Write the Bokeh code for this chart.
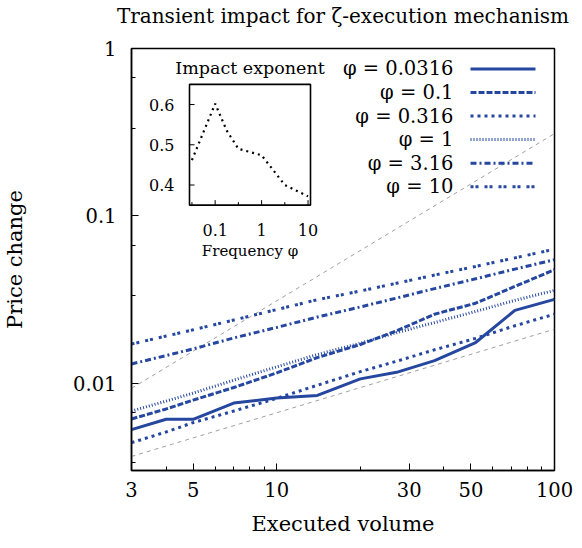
import math
from bokeh.plotting import figure
from bokeh.models import FixedTicker, CustomJSTickFormatter, Range1d, LinearScale, LogScale, LinearAxis
from bokeh.core.properties import value
from bokeh.embed import file_html
from bokeh.resources import INLINE

# ---------------- data ----------------
volume = [3, 4, 5, 7, 10, 14, 20, 27, 37, 52, 72, 100]
phi_labels = ["φ = 0.0316", "φ = 0.1", "φ = 0.316", "φ = 1", "φ = 3.16", "φ = 10"]
impact_phi_0_0316 = [0.00527, 0.00607, 0.00607, 0.00759, 0.00813, 0.00843, 0.01059, 0.01159, 0.01361, 0.01747, 0.02718, 0.03162]
impact_phi_0_1 = [0.0061, 0.0070, 0.0079, 0.0094, 0.0115, 0.0142, 0.0170, 0.0205, 0.0258, 0.0300, 0.0378, 0.0476]
impact_phi_0_316 = [0.0044, 0.0051, 0.0058, 0.0068, 0.0081, 0.0097, 0.0117, 0.0135, 0.0158, 0.0185, 0.0220, 0.0258]
impact_phi_1 = [0.0068, 0.0078, 0.0087, 0.0104, 0.0125, 0.0148, 0.0173, 0.0200, 0.0230, 0.0268, 0.0312, 0.0358]
impact_phi_3_16 = [0.0130, 0.0146, 0.0160, 0.0186, 0.0215, 0.0248, 0.0285, 0.0322, 0.0367, 0.0420, 0.0480, 0.0546]
impact_phi_10 = [0.0171, 0.0191, 0.0208, 0.0238, 0.0275, 0.0315, 0.0355, 0.0395, 0.0442, 0.0498, 0.0560, 0.0631]

inset_phi = [0.0316, 0.1, 0.178, 0.316, 1, 3.16, 10]
inset_exponent = [0.462, 0.602, 0.535, 0.490, 0.474, 0.400, 0.372]

guide_volume = [3, 100]
guide_linear = [0.0093, 0.31]
guide_sqrt = [0.00364, 0.021]

x_ticks = [3, 5, 10, 30, 50, 100]
x_minor = [4, 6, 7, 8, 9, 20, 40, 60, 70, 80, 90]
y_ticks = [0.01, 0.1, 1]
y_minor = [0.00333, 0.00667, 0.0333, 0.0667, 0.333, 0.667]
inset_x_ticks = [0.1, 1, 10]
inset_x_tick_labels = ["0.1", "1", "10"]
inset_x_minor = [0.0316, 0.316, 3.16]
inset_y_ticks = [0.4, 0.5, 0.6]
inset_y_tick_labels = ["0.4", "0.5", "0.6"]
inset_x_lim = [0.028, 11.3]
inset_y_lim = [0.35, 0.65]
title_text = "Transient impact for ζ-execution mechanism"

# ---------------- style ----------------
BLUE = "#25479F"
FONT = "DejaVu Serif"
FS = "19.5px"      # tick labels, legend
LFS = "21px"       # axis labels
TFS = "20px"       # title
IFS = "16px"       # inset tick labels
W, H = 574, 540
BL, BR, BT, BB = 131, 20, 47, 70
FW, FH = W - BL - BR, H - BT - BB

p = figure(width=W, height=H, x_axis_type="log", y_axis_type="log",
           x_range=Range1d(3, 100), y_range=Range1d(0.003, 1),
           output_backend="svg", toolbar_location=None,
           min_border_left=BL, min_border_right=BR, min_border_top=BT, min_border_bottom=BB)
p.xgrid.visible = False
p.ygrid.visible = False
p.outline_line_color = "black"
p.outline_line_width = 1.5
p.outline_line_alpha = 1.0
p.background_fill_color = "white"
p.border_fill_color = "white"

fmt = CustomJSTickFormatter(code="return tick.toString();")
p.xaxis.ticker = FixedTicker(ticks=x_ticks, minor_ticks=x_minor)
p.yaxis.ticker = FixedTicker(ticks=y_ticks, minor_ticks=y_minor)
for ax in (p.xaxis[0], p.yaxis[0]):
    ax.formatter = fmt
    ax.major_tick_in = 7
    ax.major_tick_out = 0
    ax.minor_tick_in = 4
    ax.minor_tick_out = 0
    ax.major_tick_line_color = "black"
    ax.minor_tick_line_color = "black"
    ax.axis_line_color = "black"
    ax.axis_line_width = 1.5
    ax.major_label_text_font = FONT
    ax.major_label_text_font_size = FS
    ax.major_label_text_color = "black"
    ax.axis_label_text_font = FONT
    ax.axis_label_text_font_size = LFS
    ax.axis_label_text_font_style = "normal"
    ax.axis_label_text_color = "black"
p.xaxis.axis_label = "Executed volume"
p.yaxis.axis_label = "Price change"
p.xaxis.major_label_standoff = 11
p.xaxis.axis_label_standoff = 12
p.yaxis.major_label_standoff = 15
p.yaxis.axis_label_standoff = 43

# ---------------- extra ranges: pixel space and inset ----------------
IL, IR, ITOP, IBOT = 58, 179, 36, 157  # inset box in frame pixels (from left / top)
k = (math.log10(inset_x_lim[1]) - math.log10(inset_x_lim[0])) / (IR - IL)
ix0 = 10 ** (math.log10(inset_x_lim[0]) - IL * k)
ix1 = 10 ** (math.log10(inset_x_lim[1]) + (FW - IR) * k)
m = (inset_y_lim[1] - inset_y_lim[0]) / (IBOT - ITOP)
iy0 = inset_y_lim[0] - (FH - IBOT) * m
iy1 = inset_y_lim[1] + ITOP * m

p.extra_x_ranges = {"px": Range1d(0, FW), "ix": Range1d(ix0, ix1)}
p.extra_y_ranges = {"py": Range1d(FH, 0), "iy": Range1d(iy0, iy1)}
p.extra_x_scales = {"px": LinearScale(), "ix": LogScale()}
p.extra_y_scales = {"py": LinearScale(), "iy": LinearScale()}

# ---------------- title: label of a bare axis above the frame ----------------
title_axis = LinearAxis(x_range_name="px", ticker=FixedTicker(ticks=[]), axis_label=title_text,
                        axis_line_color=None, major_tick_line_color=None, minor_tick_line_color=None,
                        major_label_text_color=None, axis_label_standoff=21,
                        axis_label_text_font=FONT, axis_label_text_font_size=TFS,
                        axis_label_text_font_style="normal", axis_label_text_color="black")
p.add_layout(title_axis, "above")

# ---------------- guide lines ----------------
p.line(guide_volume, guide_linear, line_color="#888888", line_width=0.8, line_dash="4 4")
p.line(guide_volume, guide_sqrt, line_color="#888888", line_width=0.8, line_dash="4 4")

# ---------------- series ----------------
series = [impact_phi_0_0316, impact_phi_0_1, impact_phi_0_316, impact_phi_1, impact_phi_3_16, impact_phi_10]
dashes = ["solid", "6 2", "3 4", "1 2", "6 3 2 3", "3 2 3 6"]
widths = [3, 3, 3, 3, 3, 3]
for ys, d, w in zip(series, dashes, widths):
    p.line(volume, ys, line_color=BLUE, line_width=w, line_dash=d)

# ---------------- legend (drawn manually: label left, sample right) ----------------
row0, step = 20.5, 23.6
rows = [row0 + i * step for i in range(len(phi_labels))]
p.text(x=[322] * len(rows), y=rows, text=phi_labels, text_align="right", text_baseline="middle",
       text_font=value(FONT), text_font_size=FS, text_color="black",
       x_range_name="px", y_range_name="py")
for r, d, w in zip(rows, dashes, widths):
    p.line([339, 404], [r, r], line_color=BLUE, line_width=w, line_dash=d,
           x_range_name="px", y_range_name="py")

# ---------------- inset ----------------
ikw = dict(x_range_name="ix", y_range_name="iy")
p.quad(left=[inset_x_lim[0]], right=[inset_x_lim[1]], bottom=[inset_y_lim[0]], top=[inset_y_lim[1]],
       fill_color=None, line_color="black", line_width=1.6, **ikw)
p.line(inset_phi, inset_exponent, line_color="black", line_width=2.2, line_dash="2 4", **ikw)
p.ray(x=inset_x_ticks, y=[inset_y_lim[0]] * len(inset_x_ticks), length=5, angle=math.pi / 2,
      length_units="screen", line_color="black", line_width=1, **ikw)
p.ray(x=inset_x_minor, y=[inset_y_lim[0]] * len(inset_x_minor), length=3, angle=math.pi / 2,
      length_units="screen", line_color="black", line_width=1, **ikw)
p.ray(x=[inset_x_lim[0]] * len(inset_y_ticks), y=inset_y_ticks, length=5, angle=0,
      length_units="screen", line_color="black", line_width=1, **ikw)
p.text(x=inset_x_ticks, y=[inset_y_lim[0]] * len(inset_x_ticks), text=inset_x_tick_labels,
       y_offset=25, text_align="center", text_baseline="middle",
       text_font=value(FONT), text_font_size=IFS, text_color="black", **ikw)
p.text(x=[inset_x_lim[0]] * len(inset_y_ticks), y=inset_y_ticks, text=inset_y_tick_labels,
       x_offset=-15, text_align="right", text_baseline="middle",
       text_font=value(FONT), text_font_size=IFS, text_color="black", **ikw)
icx = math.sqrt(inset_x_lim[0] * inset_x_lim[1])
p.text(x=[icx], y=[inset_y_lim[1]], text=["Impact exponent"], y_offset=-16,
       text_align="center", text_baseline="middle",
       text_font=value(FONT), text_font_size="17.5px", text_color="black", **ikw)
p.text(x=[icx], y=[inset_y_lim[0]], text=["Frequency φ"], y_offset=46,
       text_align="center", text_baseline="middle",
       text_font=value(FONT), text_font_size="15px", text_color="black", **ikw)

open("out.html", "w").write(file_html(p, INLINE))
